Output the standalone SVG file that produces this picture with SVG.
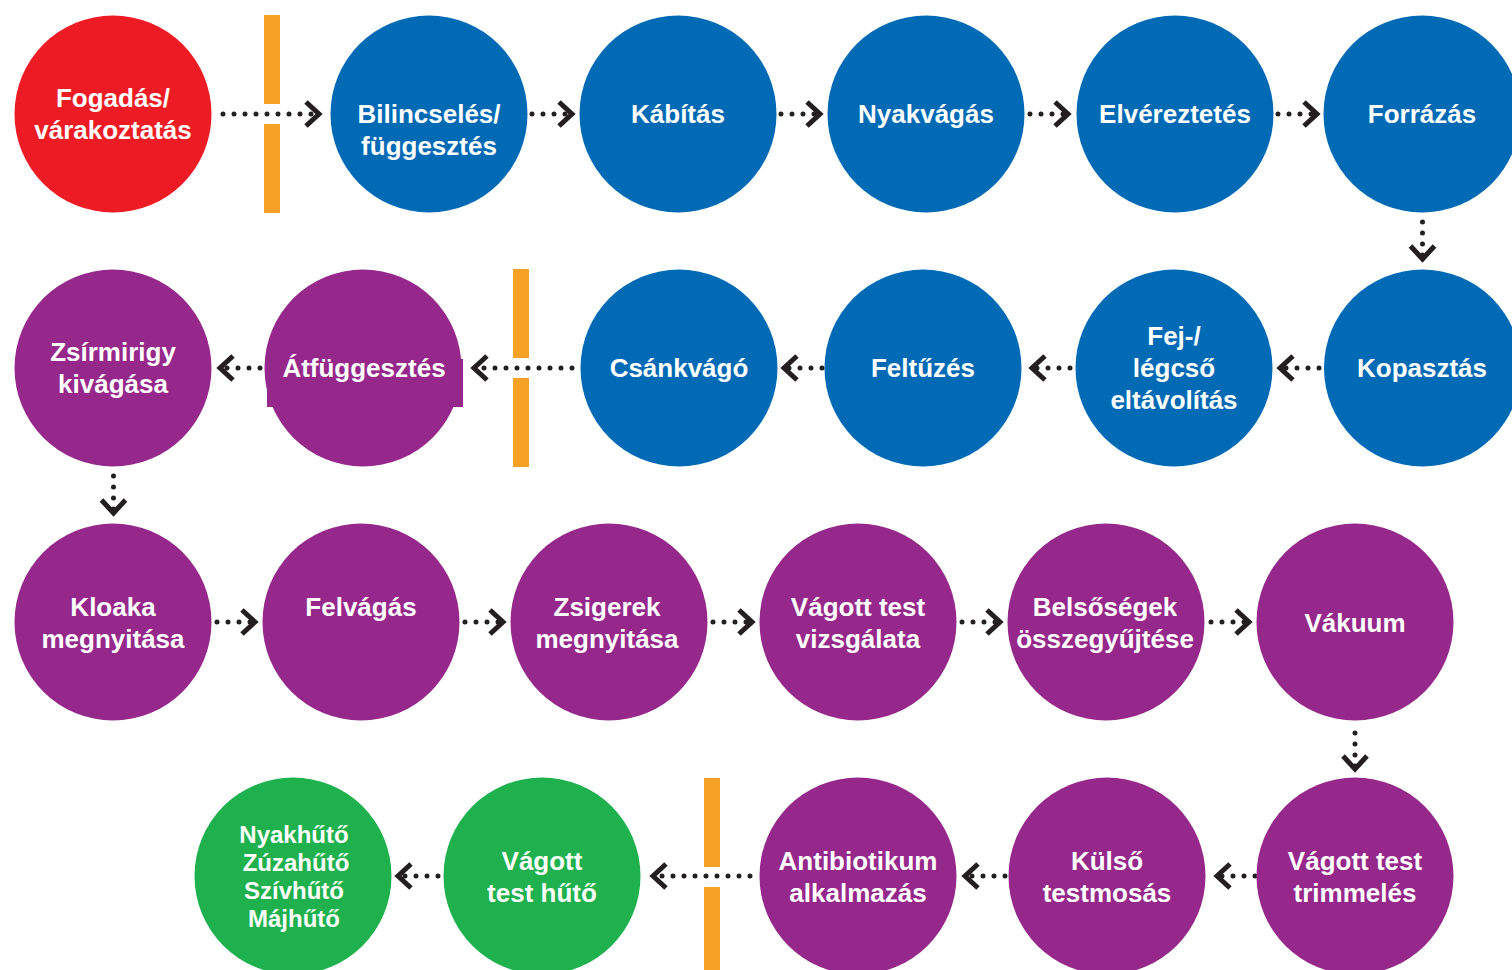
<svg xmlns="http://www.w3.org/2000/svg" width="1512" height="970" viewBox="0 0 1512 970">
<style>
text{font-family:"Liberation Sans",Arial,sans-serif;font-weight:bold;font-size:26px;fill:#fff;text-anchor:middle}
.sm{font-size:24px}
.red{fill:#ED1C24}
.blue{fill:#006AB5}
.purple{fill:#96288B}
.green{fill:#1EB14D}
.bar{fill:#F8A127}
.con{stroke:#231F20;stroke-width:5;stroke-linecap:round;stroke-dasharray:0 11;fill:none;marker-end:url(#chev)}
</style>
<defs>
<marker id="chev" markerUnits="userSpaceOnUse" viewBox="-20 -15 30 30" markerWidth="30" markerHeight="30" refX="0" refY="0" orient="auto" overflow="visible">
<path d="M-13,-12 L0,0 L-13,12" fill="none" stroke="#231F20" stroke-width="5" stroke-miterlimit="10"/>
</marker>
</defs>
<rect width="1512" height="970" fill="#fff"/>

<g id="barriers">
<rect class="bar" x="264" y="15" width="16" height="89"/>
<rect class="bar" x="264" y="124" width="16" height="89"/>
<rect class="bar" x="513" y="269" width="16" height="89"/>
<rect class="bar" x="513" y="378" width="16" height="89"/>
<rect class="bar" x="704" y="778" width="16" height="89"/>
<rect class="bar" x="704" y="887" width="16" height="83"/>
</g>

<g id="connectors">
<line class="con" x1="223" y1="114" x2="319" y2="114"/>
<line class="con" x1="532" y1="114" x2="572" y2="114"/>
<line class="con" x1="781" y1="114" x2="820" y2="114"/>
<line class="con" x1="1030" y1="114" x2="1068" y2="114"/>
<line class="con" x1="1278" y1="114" x2="1317" y2="114"/>
<line class="con" x1="1422.5" y1="222" x2="1422.5" y2="259"/>
<line class="con" x1="1319" y1="368" x2="1280" y2="368"/>
<line class="con" x1="1070" y1="368" x2="1032" y2="368"/>
<line class="con" x1="822" y1="368" x2="784" y2="368"/>
<line class="con" x1="572" y1="368" x2="474" y2="368"/>
<line class="con" x1="260" y1="368" x2="220" y2="368"/>
<line class="con" x1="113.5" y1="476" x2="113.5" y2="513"/>
<line class="con" x1="217" y1="622" x2="255" y2="622"/>
<line class="con" x1="465" y1="622" x2="503" y2="622"/>
<line class="con" x1="713" y1="622" x2="752" y2="622"/>
<line class="con" x1="962" y1="622" x2="1000" y2="622"/>
<line class="con" x1="1211" y1="622" x2="1249" y2="622"/>
<line class="con" x1="1355" y1="733" x2="1355" y2="769"/>
<line class="con" x1="1255" y1="876" x2="1217" y2="876"/>
<line class="con" x1="1005" y1="876" x2="965" y2="876"/>
<line class="con" x1="750" y1="876" x2="653" y2="876"/>
<line class="con" x1="438" y1="876" x2="398" y2="876"/>
</g>

<g id="n-fogadas"><circle class="red" cx="113" cy="114" r="98.5"/><text x="113" y="107">Fogadás/</text><text x="113" y="139">várakoztatás</text></g>
<g id="n-bilincseles"><circle class="blue" cx="429" cy="114" r="98.5"/><text x="429" y="123">Bilincselés/</text><text x="429" y="155">függesztés</text></g>
<g id="n-kabitas"><circle class="blue" cx="678" cy="114" r="98.5"/><text x="678" y="123">Kábítás</text></g>
<g id="n-nyakvagas"><circle class="blue" cx="926" cy="114" r="98.5"/><text x="926" y="123">Nyakvágás</text></g>
<g id="n-elvereztetes"><circle class="blue" cx="1175" cy="114" r="98.5"/><text x="1175" y="123">Elvéreztetés</text></g>
<g id="n-forrazas"><circle class="blue" cx="1422" cy="114" r="98.5"/><text x="1422" y="123">Forrázás</text></g>

<g id="n-zsirmirigy"><circle class="purple" cx="113" cy="368" r="98.5"/><text x="113" y="361">Zsírmirigy</text><text x="113" y="393">kivágása</text></g>
<g id="n-atfuggesztes"><circle class="purple" cx="363" cy="368" r="98.5"/><rect class="purple" x="267" y="359" width="196" height="48"/><text x="364" y="377">Átfüggesztés</text></g>
<g id="n-csankvago"><circle class="blue" cx="679" cy="368" r="98.5"/><text x="679" y="377">Csánkvágó</text></g>
<g id="n-feltuzes"><circle class="blue" cx="923" cy="368" r="98.5"/><text x="923" y="377">Feltűzés</text></g>
<g id="n-fej"><circle class="blue" cx="1174" cy="368" r="98.5"/><text x="1174" y="345">Fej-/</text><text x="1174" y="377">légcső</text><text x="1174" y="409">eltávolítás</text></g>
<g id="n-kopasztas"><circle class="blue" cx="1422.5" cy="368" r="98.5"/><text x="1422" y="377">Kopasztás</text></g>

<g id="n-kloaka"><circle class="purple" cx="113" cy="622" r="98.5"/><text x="113" y="616">Kloaka</text><text x="113" y="648">megnyitása</text></g>
<g id="n-felvagas"><circle class="purple" cx="361" cy="622" r="98.5"/><text x="361" y="616">Felvágás</text></g>
<g id="n-zsigerek"><circle class="purple" cx="609" cy="622" r="98.5"/><text x="607" y="616">Zsigerek</text><text x="607" y="648">megnyitása</text></g>
<g id="n-vizsgalata"><circle class="purple" cx="858" cy="622" r="98.5"/><text x="858" y="616">Vágott test</text><text x="858" y="648">vizsgálata</text></g>
<g id="n-belsosegek"><circle class="purple" cx="1106" cy="622" r="98.5"/><text x="1105" y="616">Belsőségek</text><text x="1105" y="648">összegyűjtése</text></g>
<g id="n-vakuum"><circle class="purple" cx="1355" cy="622" r="98.5"/><text x="1355" y="632">Vákuum</text></g>

<g id="n-trimmeles"><circle class="purple" cx="1355" cy="876" r="98.5"/><text x="1355" y="870">Vágott test</text><text x="1355" y="902">trimmelés</text></g>
<g id="n-kulso"><circle class="purple" cx="1107" cy="876" r="98.5"/><text x="1107" y="870">Külső</text><text x="1107" y="902">testmosás</text></g>
<g id="n-antibiotikum"><circle class="purple" cx="858" cy="876" r="98.5"/><text x="858" y="870">Antibiotikum</text><text x="858" y="902">alkalmazás</text></g>
<g id="n-hutohuto"><circle class="green" cx="542" cy="876" r="98.5"/><text x="542" y="870">Vágott</text><text x="542" y="902">test hűtő</text></g>
<g id="n-belsohuto"><circle class="green" cx="293" cy="876" r="98.5"/><text class="sm" x="294" y="843">Nyakhűtő</text><text class="sm" x="296" y="871">Zúzahűtő</text><text class="sm" x="294" y="899">Szívhűtő</text><text class="sm" x="294" y="927">Májhűtő</text></g>
</svg>
